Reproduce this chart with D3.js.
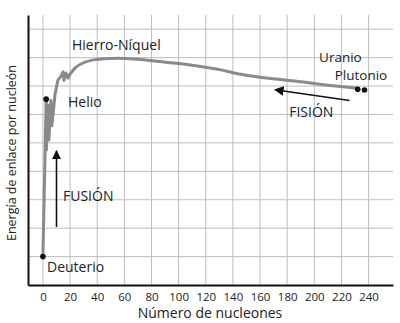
<!DOCTYPE html>
<html>
<head>
<meta charset="utf-8">
<script src="https://cdn.jsdelivr.net/npm/d3@7"></script>
<style>
  body { margin: 0; background: #fff; }
  text { font-family: "Open Sans", sans-serif; fill: #222; }
</style>
</head>
<body>
<svg id="chart" width="400" height="323"></svg>
<script>
// nucleon number (A) and binding energy per nucleon (schematic units)
const massNumbers = [0, 2.4, 2.6, 3.7, 4.4, 5.9, 6.6, 8.9, 11, 13.3, 14.8, 15.5, 17, 18.5, 20, 24, 30, 37, 45, 55, 70, 86, 100, 111, 131, 140, 165, 190, 214, 232];
const energies = [1.0, 6.54, 4.75, 6.33, 5.1, 6.5, 5.6, 6.7, 7.2, 7.35, 7.5, 7.2, 7.46, 7.28, 7.42, 7.65, 7.82, 7.92, 7.96, 7.98, 7.94, 7.86, 7.79, 7.72, 7.57, 7.47, 7.28, 7.15, 7.01, 6.92];

const xTicks = [0, 20, 40, 60, 80, 100, 120, 140, 160, 180, 200, 220, 240];
const yGrid = [1, 2, 3, 4, 5, 6, 7, 8, 9];

const markedNames = ['Deuterio', 'Helio', 'Uranio', 'Plutonio'];
const markedA = [0, 2.4, 232, 237];
const markedE = [1.0, 6.54, 6.89, 6.86];

const labelTexts = ['Hierro-Níquel', 'Helio', 'Uranio', 'Plutonio', 'FISIÓN', 'FUSIÓN', 'Deuterio'];
const labelA = [21.4, 18.5, 203.5, 215, 181.5, 14.8, 3];
const labelE = [8.27, 6.27, 7.84, 7.22, 5.91, 2.95, 0.46];
const labelSize = [14, 14, 13.5, 13.5, 14, 14, 14];

const arrowFrom = [[10, 2.04], [226, 6.49]];
const arrowTo = [[10, 4.72], [171, 6.87]];

const svg = d3.select('#chart');
const x = d3.scaleLinear().domain([-11, 258]).range([28, 393]);
const y = d3.scaleLinear().domain([0, 9.5]).range([285, 15]);

// grid
svg.append('g')
    .selectAll('line')
    .data(xTicks)
    .join('line')
    .attr('x1', d => x(d)).attr('x2', d => x(d))
    .attr('y1', y(9.5)).attr('y2', y(0))
    .attr('stroke', '#bdbdbd').attr('stroke-width', 1);
svg.append('g')
    .selectAll('line')
    .data(yGrid)
    .join('line')
    .attr('x1', x(-11)).attr('x2', x(258))
    .attr('y1', d => y(d)).attr('y2', d => y(d))
    .attr('stroke', '#bdbdbd').attr('stroke-width', 1);

// x axis
const xAxis = svg.append('g')
    .attr('transform', `translate(0, ${y(0)})`)
    .call(d3.axisBottom(x).tickValues(xTicks).tickSize(0).tickPadding(8));
xAxis.select('.domain').attr('stroke', '#111').attr('stroke-width', 2);
xAxis.selectAll('text').style('font-size', '11.5px').attr('fill', '#222');

// y axis (no labels)
const yAxis = svg.append('g')
    .attr('transform', `translate(${x(-11)}, 0)`)
    .call(d3.axisLeft(y).tickValues([]).tickSize(0));
yAxis.select('.domain').attr('stroke', '#111').attr('stroke-width', 2);

// curve: sharp in the light-nuclei zigzag, smooth afterwards
const jag = 15;
const line = d3.line()
    .x((d, i) => x(massNumbers[i]))
    .y((d, i) => y(energies[i]));
svg.append('path')
    .datum(energies.slice(0, jag))
    .attr('d', line)
    .attr('fill', 'none')
    .attr('stroke', '#8a8a8a')
    .attr('stroke-width', 3)
    .attr('stroke-linejoin', 'round');
const smooth = d3.line()
    .curve(d3.curveMonotoneX)
    .x((d, i) => x(massNumbers[i + jag - 1]))
    .y((d, i) => y(energies[i + jag - 1]));
svg.append('path')
    .datum(energies.slice(jag - 1))
    .attr('d', smooth)
    .attr('fill', 'none')
    .attr('stroke', '#8a8a8a')
    .attr('stroke-width', 3)
    .attr('stroke-linecap', 'round');

// marked nuclei
svg.append('g')
    .selectAll('circle')
    .data(markedNames)
    .join('circle')
    .attr('cx', (d, i) => x(markedA[i]))
    .attr('cy', (d, i) => y(markedE[i]))
    .attr('r', 2.8)
    .attr('fill', '#111');

// arrows
svg.append('defs').append('marker')
    .attr('id', 'head')
    .attr('viewBox', '0 0 10 10')
    .attr('refX', 9).attr('refY', 5)
    .attr('markerWidth', 6).attr('markerHeight', 6)
    .attr('markerUnits', 'strokeWidth')
    .attr('orient', 'auto')
    .append('path')
    .attr('d', 'M0,0L10,5L0,10Z')
    .attr('fill', '#111');
svg.append('g')
    .selectAll('line')
    .data(arrowFrom)
    .join('line')
    .attr('x1', d => x(d[0])).attr('y1', d => y(d[1]))
    .attr('x2', (d, i) => x(arrowTo[i][0])).attr('y2', (d, i) => y(arrowTo[i][1]))
    .attr('stroke', '#111').attr('stroke-width', 1.6)
    .attr('marker-end', 'url(#head)');

// labels
svg.append('g')
    .selectAll('text')
    .data(labelTexts)
    .join('text')
    .attr('x', (d, i) => x(labelA[i]))
    .attr('y', (d, i) => y(labelE[i]))
    .style('font-size', (d, i) => labelSize[i] + 'px')
    .text(d => d);

// axis titles
svg.append('text')
    .attr('x', 210).attr('y', 318)
    .attr('text-anchor', 'middle')
    .style('font-size', '14px')
    .text('Número de nucleones');
svg.append('text')
    .attr('transform', 'translate(16, 153) rotate(-90)')
    .attr('text-anchor', 'middle')
    .style('font-size', '12.5px')
    .text('Energía de enlace por nucleón');
</script>
</body>
</html>
